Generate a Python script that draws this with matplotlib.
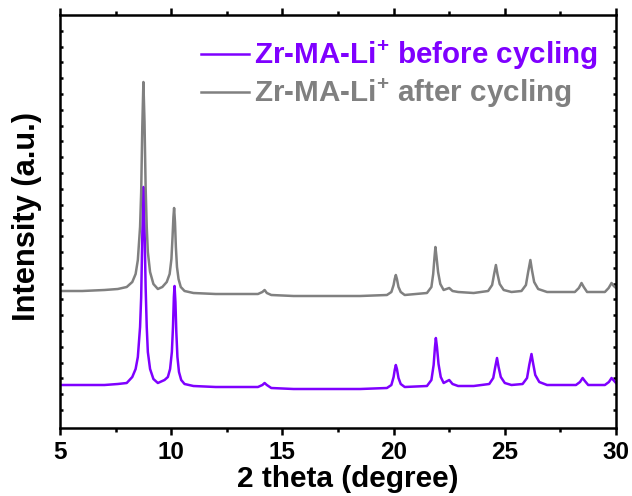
import matplotlib
matplotlib.use("Agg")
import matplotlib.pyplot as plt
import numpy as np

plt.rcParams['font.family'] = ['Liberation Sans', 'DejaVu Sans']
plt.rcParams['font.weight'] = 'bold'
plt.rcParams['mathtext.fontset'] = 'custom'
plt.rcParams['mathtext.rm'] = 'Liberation Sans:bold'
plt.rcParams['mathtext.bf'] = 'Liberation Sans:bold'
plt.rcParams['mathtext.default'] = 'bf'

# XRD patterns (2theta in degree, intensity in a.u.)
theta_before = [5.0, 6.0, 7.0, 7.6, 8.0, 8.25, 8.4, 8.5, 8.6, 8.65, 8.7, 8.75, 8.8, 8.85,
                8.9, 8.95, 9.05, 9.2, 9.4, 9.6, 9.7, 9.85, 9.95, 10.03, 10.08, 10.12,
                10.15, 10.19, 10.23, 10.28, 10.35, 10.45, 10.6, 11.0, 12.0, 13.0,
                13.9, 14.1, 14.2, 14.3, 14.5, 15.5, 17.0, 18.5, 19.7, 19.9, 20.0, 20.05,
                20.1, 20.15, 20.22, 20.32, 20.5, 21.5, 21.7, 21.8, 21.86, 21.9, 21.95,
                22.02, 22.12, 22.25, 22.5, 22.65, 22.9, 23.6, 24.3, 24.48, 24.57, 24.65,
                24.72, 24.82, 25.0, 25.3, 25.8, 26.0, 26.1, 26.2, 26.27, 26.37, 26.55,
                26.9, 28.2, 28.38, 28.5, 28.6, 28.75, 29.5, 29.68, 29.8, 29.92, 30.0]
int_before = [42, 42, 42, 43, 44, 50, 58, 70, 100, 130, 190, 240, 200, 140,
              100, 75, 58, 48, 44, 46, 47, 50, 58, 75, 100, 130,
              141, 125, 95, 70, 55, 47, 43, 41, 40, 40,
              40, 42, 44, 42, 39, 38, 38, 38, 39, 42, 50, 57,
              62, 58, 49, 43, 40, 41, 47, 62, 80, 89, 80,
              63, 50, 44, 47, 43, 41, 41, 43, 49, 60, 69,
              60, 50, 44, 42, 43, 49, 62, 73, 64, 52, 45,
              42, 42, 45, 49, 46, 42, 42, 45, 49, 46, 44]

theta_after = [5.0, 6.0, 7.0, 7.6, 8.0, 8.25, 8.4, 8.5, 8.6, 8.65, 8.7, 8.75, 8.8, 8.85,
               8.9, 8.95, 9.05, 9.2, 9.4, 9.6, 9.8, 9.93, 10.01, 10.06, 10.1, 10.13,
               10.17, 10.21, 10.26, 10.33, 10.43, 10.6, 11.0, 12.0, 13.0,
               13.9, 14.1, 14.2, 14.3, 14.5, 15.5, 17.0, 18.5, 19.7, 19.9, 20.0, 20.05,
               20.1, 20.15, 20.22, 20.32, 20.5, 21.5, 21.7, 21.78, 21.84, 21.88, 21.93,
               22.0, 22.1, 22.25, 22.5, 22.65, 22.9, 23.6, 24.25, 24.43, 24.52, 24.6,
               24.67, 24.77, 24.95, 25.3, 25.75, 25.95, 26.05, 26.15, 26.22, 26.32, 26.5,
               26.9, 28.15, 28.33, 28.45, 28.55, 28.7, 29.5, 29.67, 29.8, 29.9, 30.0]
int_after = [136, 136, 137, 138, 140, 145, 153, 167, 200, 235, 300, 345, 305, 240,
             200, 175, 155, 143, 138, 140, 145, 153, 168, 190, 210, 219,
             205, 180, 160, 148, 140, 136, 134, 133, 133,
             133, 135, 137, 134, 132, 131, 131, 131, 132, 135, 142, 148,
             152, 148, 140, 135, 132, 134, 140, 153, 170, 180, 170,
             155, 143, 137, 139, 136, 135, 134, 136, 142, 153, 162,
             153, 143, 137, 135, 136, 142, 155, 167, 157, 145, 138,
             135, 135, 139, 144, 140, 135, 135, 139, 144, 141, 139]

x_ticks = [5, 10, 15, 20, 25, 30]

fig = plt.figure(figsize=(6.32, 4.96), dpi=100)
ax = fig.add_subplot(111)
fig.subplots_adjust(left=60/632, right=616/632, bottom=1-428/496, top=1-15/496)

ax.plot(theta_before, int_before, color='#7f00ff', lw=1.8,
        label=r'Zr-MA-Li$^{+}$ before cycling')
ax.plot(theta_after, int_after, color='#808080', lw=1.8,
        label=r'Zr-MA-Li$^{+}$ after cycling')

ax.set_xlim(5, 30)
ax.set_ylim(-1, 412)

ax.set_xticks(x_ticks)
ax.set_xticks(np.arange(7.5, 30, 5), minor=True)
ax.set_yticks(np.arange(17, 412, 15.8))
ax.yaxis.set_major_formatter(plt.NullFormatter())

for s in ax.spines.values():
    s.set_linewidth(1.8)

ax.tick_params(axis='x', which='major', direction='out', length=5, width=1.8,
               labelsize=17.5, pad=4.5)
ax.tick_params(axis='x', which='minor', direction='out', length=3, width=1.8)
ax.tick_params(axis='x', which='both', top=True)
ax.tick_params(axis='x', which='both', labeltop=False)
ax.tick_params(axis='y', direction='in', length=2.5, width=1.8, right=True)

ax.set_xlabel('2 theta (degree)', fontsize=21.4, fontweight='bold', va='top')
ax.xaxis.set_label_coords(0.517, -0.09)
ax.set_ylabel('Intensity (a.u.)', fontsize=22.2, fontweight='bold')
ax.yaxis.set_label_coords(-0.033, 0.511)

leg = ax.legend(loc='upper right', bbox_to_anchor=(1.0, 0.985), frameon=False,
                fontsize=21.3, handlelength=1.62, handletextpad=0.17, labelspacing=0.16,
                borderaxespad=0.2)
for txt, line in zip(leg.get_texts(), leg.get_lines()):
    txt.set_color(line.get_color())
    txt.set_fontweight('bold')

plt.savefig('out.png', dpi=100)
